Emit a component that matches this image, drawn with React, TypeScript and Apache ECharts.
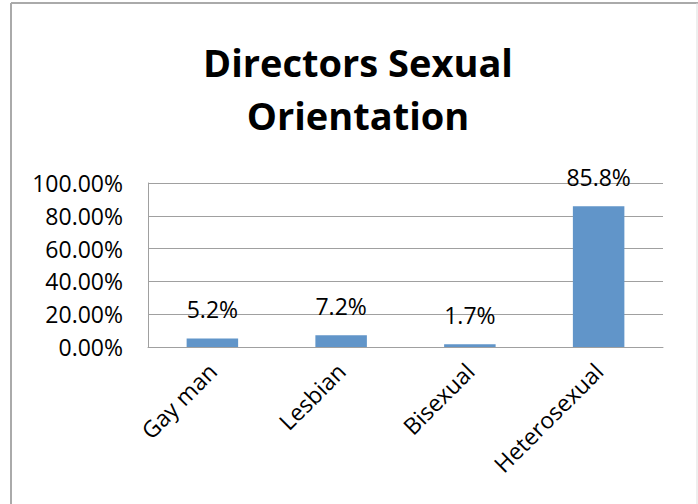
import React, { useEffect, useRef } from "react";
import * as echarts from "echarts";

const categories = ["Gay man", "Lesbian", "Bisexual", "Heterosexual"];
const values = [5.2, 7.2, 1.7, 85.8];
const titleText = "Directors Sexual\nOrientation";

const FONT = "'Open Sans', 'Noto Sans', sans-serif";

export default function App() {
  const ref = useRef<HTMLDivElement>(null);
  useEffect(() => {
    if (!ref.current) return;
    const chart = echarts.init(ref.current, null, { renderer: "svg" });
    chart.setOption({
      animation: false,
      backgroundColor: "#ffffff",
      title: {
        text: titleText,
        left: 353,
        top: 30,
        textAlign: "center",
        textStyle: {
          fontFamily: FONT,
          fontWeight: "bold",
          fontSize: 38,
          lineHeight: 53,
          color: "#000",
        },
      },
      graphic: [
        { type: "line", shape: { x1: 11, y1: 3, x2: 698, y2: 3 }, style: { stroke: "#aaaaaa", lineWidth: 2 } },
        { type: "line", shape: { x1: 11, y1: 3, x2: 11, y2: 504 }, style: { stroke: "#aaaaaa", lineWidth: 2 } },
        { type: "line", shape: { x1: 697, y1: 3, x2: 697, y2: 504 }, style: { stroke: "#dddddd", lineWidth: 1 } },
      ],
      grid: { left: 148, right: 35, top: 183, bottom: 157, containLabel: false },
      xAxis: {
        type: "category",
        data: categories,
        axisLine: { show: true, lineStyle: { color: "#a0a0a0", width: 1 } },
        axisTick: { show: false },
        axisLabel: {
          rotate: 45,
          margin: 20,
          fontFamily: FONT,
          fontSize: 23,
          color: "#000",
        },
      },
      yAxis: {
        type: "value",
        min: 0,
        max: 100,
        interval: 20,
        axisLine: { show: true, lineStyle: { color: "#a0a0a0", width: 1 } },
        axisTick: { show: false },
        splitLine: { show: true, lineStyle: { color: "#a0a0a0", width: 1 } },
        axisLabel: {
          margin: 25,
          fontFamily: FONT,
          fontSize: 23,
          color: "#000",
          formatter: (v: number) => v.toFixed(2) + "%",
        },
      },
      series: [
        {
          type: "bar",
          data: values,
          barWidth: "40%",
          itemStyle: { color: "#6195c9" },
          label: {
            show: true,
            position: "top",
            distance: 18,
            fontFamily: FONT,
            fontSize: 23,
            color: "#000",
            formatter: (p: any) => p.value.toFixed(1) + "%",
          },
        },
      ],
    });
    return () => chart.dispose();
  }, []);
  return (
    <div
      ref={ref}
      style={{ position: "fixed", left: 0, top: 0, width: 698, height: 504 }}
    />
  );
}
